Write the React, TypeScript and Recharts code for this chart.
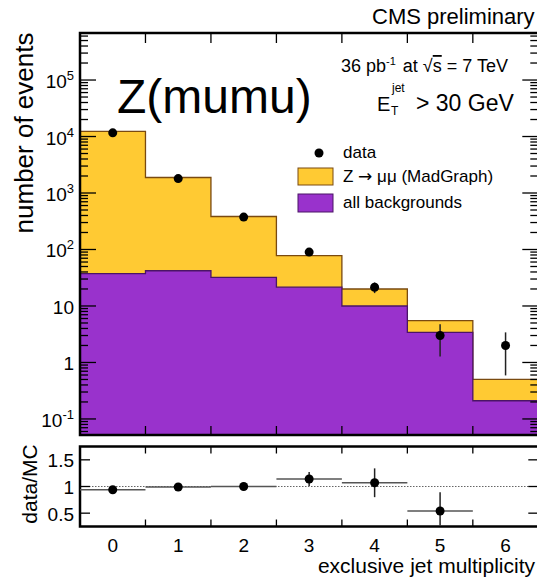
import React from 'react'
import {
  ComposedChart,
  Area,
  Scatter,
  XAxis,
  YAxis,
  ErrorBar,
  ReferenceArea,
  ReferenceLine,
} from 'recharts'

// bin edges and centres of the exclusive jet multiplicity
const binEdges = [-0.5, 0.5, 1.5, 2.5, 3.5, 4.5, 5.5, 6.5]
const jetBins = [0, 1, 2, 3, 4, 5, 6]

// MC expectation per bin (events)
const zSignal = [12260, 1838, 352, 56.5, 10, 2.1, 0.29]
const backgrounds = [37.5, 42, 32, 21.5, 10, 3.4, 0.21]

// observed data and its uncertainty
const dataCounts = [11600, 1800, 375, 90, 21.5, 3, 2]
const dataErrors = [108, 42, 19, 9.5, 4.6, 1.73, 1.41]

// data / MC ratio (bin 6 is off scale)
const ratioBins = [0, 1, 2, 3, 4, 5]
const ratioValues = [0.94, 0.99, 1.0, 1.14, 1.07, 0.54]
const ratioErrors = [
  [0.01, 0.01],
  [0.025, 0.025],
  [0.05, 0.05],
  [0.13, 0.13],
  [0.27, 0.27],
  [0.27, 0.35],
]

const majorLogTicks = [0.1, 1, 10, 100, 1e3, 1e4, 1e5]
const ratioYTicks = [0.5, 1, 1.5]
const ratioXTicks = [0, 0.5, 1, 1.5, 2, 2.5, 3, 3.5, 4, 4.5, 5, 5.5, 6]
const innerEdges = [0.5, 1.5, 2.5, 3.5, 4.5, 5.5]

const LOG_DOMAIN: [number, number] = [0.052, 680000]
const RATIO_DOMAIN: [number, number] = [0.25, 1.75]

// layout
const CHART_W = 560
const PLOT_LEFT = 80
const PLOT_RIGHT = 538.3
const TOP_H = 437
const TOP_PLOT_TOP = 33
const TOP_PLOT_BOTTOM = 435
const RATIO_TOP = 440
const RATIO_H = 137
const RATIO_PLOT_TOP = 6.5
const RATIO_PLOT_BOTTOM = 86.5

const YELLOW = '#ffca33'
const YELLOW_EDGE = '#7a4a10'
const PURPLE = '#9932cc'
const PURPLE_EDGE = '#4b1466'

// minor ticks 2..9 x 10^k inside the log domain
const minorLogTicks: number[] = []
for (let k = -2; k <= 5; k++) {
  for (let m = 2; m <= 9; m++) {
    const v = m * Math.pow(10, k)
    if (v > LOG_DOMAIN[0] && v < LOG_DOMAIN[1]) minorLogTicks.push(v)
  }
}
const logTicks = [...majorLogTicks, ...minorLogTicks].sort((a, b) => a - b)

const histRows = binEdges.map((x, i) => {
  const b = Math.min(i, jetBins.length - 1)
  return { x, total: zSignal[b] + backgrounds[b], bg: backgrounds[b] }
})

const dataPoints = jetBins.map((x, i) => ({ x, y: dataCounts[i], err: dataErrors[i] }))

const ratioPoints = ratioBins.map((x, i) => ({
  x,
  y: ratioValues[i],
  ey: ratioErrors[i],
  ex: 0.5,
}))

function LogTick(props: any) {
  const { y, payload } = props
  const v = payload.value
  const k = Math.round(Math.log10(v))
  const major = Math.abs(v - Math.pow(10, k)) < 1e-6 * v
  const len = major ? 16 : 8
  let label: React.ReactNode = null
  if (major) {
    if (k === 0) label = '1'
    else if (k === 1) label = '10'
    else
      label = (
        <>
          <tspan>10</tspan>
          <tspan dy={-8} fontSize={13}>
            {k}
          </tspan>
        </>
      )
  }
  return (
    <g>
      <line x1={PLOT_LEFT} x2={PLOT_LEFT + len} y1={y} y2={y} stroke="#000" strokeWidth={1.3} />
      <line x1={PLOT_RIGHT - len} x2={PLOT_RIGHT} y1={y} y2={y} stroke="#000" strokeWidth={1.3} />
      {label && (
        <text x={74} y={y + 8} textAnchor="end" fontSize={19} fill="#000">
          {label}
        </text>
      )}
    </g>
  )
}

function EdgeTick(props: any) {
  const { x } = props
  return (
    <g>
      <line x1={x} x2={x} y1={TOP_PLOT_BOTTOM - 9} y2={TOP_PLOT_BOTTOM} stroke="#000" strokeWidth={1.3} />
      <line x1={x} x2={x} y1={TOP_PLOT_TOP} y2={TOP_PLOT_TOP + 10} stroke="#000" strokeWidth={1.3} />
    </g>
  )
}

function RatioXTick(props: any) {
  const { x, payload } = props
  const v = payload.value
  if (Number.isInteger(v)) {
    return (
      <text x={x} y={RATIO_PLOT_BOTTOM + 25} textAnchor="middle" fontSize={19} fill="#000">
        {v}
      </text>
    )
  }
  return (
    <g>
      <line x1={x} x2={x} y1={RATIO_PLOT_BOTTOM - 7} y2={RATIO_PLOT_BOTTOM} stroke="#000" strokeWidth={1.3} />
      <line x1={x} x2={x} y1={RATIO_PLOT_TOP} y2={RATIO_PLOT_TOP + 7} stroke="#000" strokeWidth={1.3} />
    </g>
  )
}

function RatioYTick(props: any) {
  const { y, payload } = props
  return (
    <g>
      <line x1={PLOT_LEFT} x2={PLOT_LEFT + 10} y1={y} y2={y} stroke="#000" strokeWidth={1.3} />
      <line x1={PLOT_RIGHT - 10} x2={PLOT_RIGHT} y1={y} y2={y} stroke="#000" strokeWidth={1.3} />
      <text x={74} y={y + 7.5} textAnchor="end" fontSize={19} fill="#000">
        {payload.value}
      </text>
    </g>
  )
}

const dot = (p: any) => <circle cx={p.cx} cy={p.cy} r={4.5} fill="#000" />

export default function App() {
  return (
    <div
      style={{
        position: 'absolute',
        left: 0,
        top: 0,
        width: 537,
        height: 577,
        overflow: 'hidden',
        background: '#fff',
        fontFamily: '"Liberation Sans", Arial, sans-serif',
      }}
    >
      <div style={{ position: 'absolute', left: 0, top: 0 }}>
        <ComposedChart
          width={CHART_W}
          height={TOP_H}
          data={histRows}
          margin={{ top: TOP_PLOT_TOP, right: CHART_W - PLOT_RIGHT, bottom: 0, left: 0 }}
        >
          <XAxis
            type="number"
            dataKey="x"
            domain={[-0.5, 6.5]}
            ticks={innerEdges}
            interval={0}
            tick={<EdgeTick />}
            tickLine={false}
            axisLine={false}
            height={2}
            allowDataOverflow
          />
          <YAxis
            type="number"
            scale="log"
            domain={LOG_DOMAIN}
            ticks={logTicks}
            interval={0}
            tick={<LogTick />}
            tickLine={false}
            axisLine={false}
            width={PLOT_LEFT}
            allowDataOverflow
          />
          <Area
            type="stepAfter"
            dataKey="total"
            fill={YELLOW}
            fillOpacity={1}
            stroke={YELLOW_EDGE}
            strokeWidth={1.3}
            dot={false}
            activeDot={false}
            isAnimationActive={false}
          />
          <Area
            type="stepAfter"
            dataKey="bg"
            fill={PURPLE}
            fillOpacity={1}
            stroke={PURPLE_EDGE}
            strokeWidth={1.3}
            dot={false}
            activeDot={false}
            isAnimationActive={false}
          />
          <Scatter data={dataPoints} dataKey="y" shape={dot} isAnimationActive={false}>
            <ErrorBar dataKey="err" direction="y" width={0} stroke="#222" strokeWidth={1.5} />
          </Scatter>
          <ReferenceArea
            x1={-0.5}
            x2={6.5}
            y1={LOG_DOMAIN[0]}
            y2={LOG_DOMAIN[1]}
            fill="none"
            stroke="#000"
            strokeWidth={2.5}
            ifOverflow="visible"
          />
        </ComposedChart>
      </div>

      <div style={{ position: 'absolute', left: 0, top: RATIO_TOP }}>
        <ComposedChart
          width={CHART_W}
          height={RATIO_H}
          data={ratioPoints}
          margin={{ top: RATIO_PLOT_TOP, right: CHART_W - PLOT_RIGHT, bottom: 0, left: 0 }}
        >
          <XAxis
            type="number"
            dataKey="x"
            domain={[-0.5, 6.5]}
            ticks={ratioXTicks}
            interval={0}
            tick={<RatioXTick />}
            tickLine={false}
            axisLine={false}
            height={RATIO_H - RATIO_PLOT_BOTTOM}
            allowDataOverflow
          />
          <YAxis
            type="number"
            domain={RATIO_DOMAIN}
            ticks={ratioYTicks}
            interval={0}
            tick={<RatioYTick />}
            tickLine={false}
            axisLine={false}
            width={PLOT_LEFT}
            allowDataOverflow
          />
          <ReferenceLine y={1} stroke="#666" strokeWidth={1} strokeDasharray="1.5 1.5" />
          <Scatter data={ratioPoints} dataKey="y" shape={dot} isAnimationActive={false}>
            <ErrorBar dataKey="ex" direction="x" width={0} stroke="#555" strokeWidth={1.5} />
            <ErrorBar dataKey="ey" direction="y" width={0} stroke="#222" strokeWidth={1.5} />
          </Scatter>
          <ReferenceArea
            x1={-0.5}
            x2={6.5}
            y1={RATIO_DOMAIN[0]}
            y2={RATIO_DOMAIN[1]}
            fill="none"
            stroke="#000"
            strokeWidth={2.5}
            ifOverflow="visible"
          />
        </ComposedChart>
      </div>

      <svg
        width={537}
        height={577}
        style={{ position: 'absolute', left: 0, top: 0, pointerEvents: 'none' }}
      >
        <text x={372} y={24} fontSize={22} fill="#000">
          CMS preliminary
        </text>
        <text x={117} y={113} fontSize={48} fill="#000">
          Z(mumu)
        </text>
        <text x={341} y={72} fontSize={18} fill="#000">
          36 pb
          <tspan dy={-7} fontSize={11}>
            -1
          </tspan>
          <tspan dy={7} dx={7}>
            at √
          </tspan>
          <tspan style={{ textDecoration: 'overline' }}>s</tspan>
          <tspan> = 7 TeV</tspan>
        </text>
        <text x={377} y={111} fontSize={20} fill="#000">
          E
        </text>
        <text x={391} y={115} fontSize={12} fill="#000">
          T
        </text>
        <text x={392} y={92} fontSize={12} fill="#000">
          jet
        </text>
        <text x={416} y={111} fontSize={23} fill="#000">
          {'> 30 GeV'}
        </text>

        <circle cx={319} cy={153} r={4.5} fill="#000" />
        <text x={343} y={158} fontSize={17} fill="#000">
          data
        </text>
        <rect x={298} y={168} width={35} height={17} fill={YELLOW} stroke={YELLOW_EDGE} strokeWidth={1} />
        <text x={343} y={182} fontSize={17} fill="#000">
          Z <tspan fontFamily="DejaVu Sans">→</tspan> μμ (MadGraph)
        </text>
        <rect x={298} y={194} width={35} height={18} fill={PURPLE} stroke={PURPLE_EDGE} strokeWidth={1} />
        <text x={343} y={208} fontSize={17} fill="#000">
          all backgrounds
        </text>

        <text transform="translate(33,133) rotate(-90)" textAnchor="middle" fontSize={26} fill="#000">
          number of events
        </text>
        <text transform="translate(37,484) rotate(-90)" textAnchor="middle" fontSize={21} fill="#000">
          data/MC
        </text>
        <text x={535} y={573} textAnchor="end" fontSize={21} fill="#000">
          exclusive jet multiplicity
        </text>
      </svg>
    </div>
  )
}
